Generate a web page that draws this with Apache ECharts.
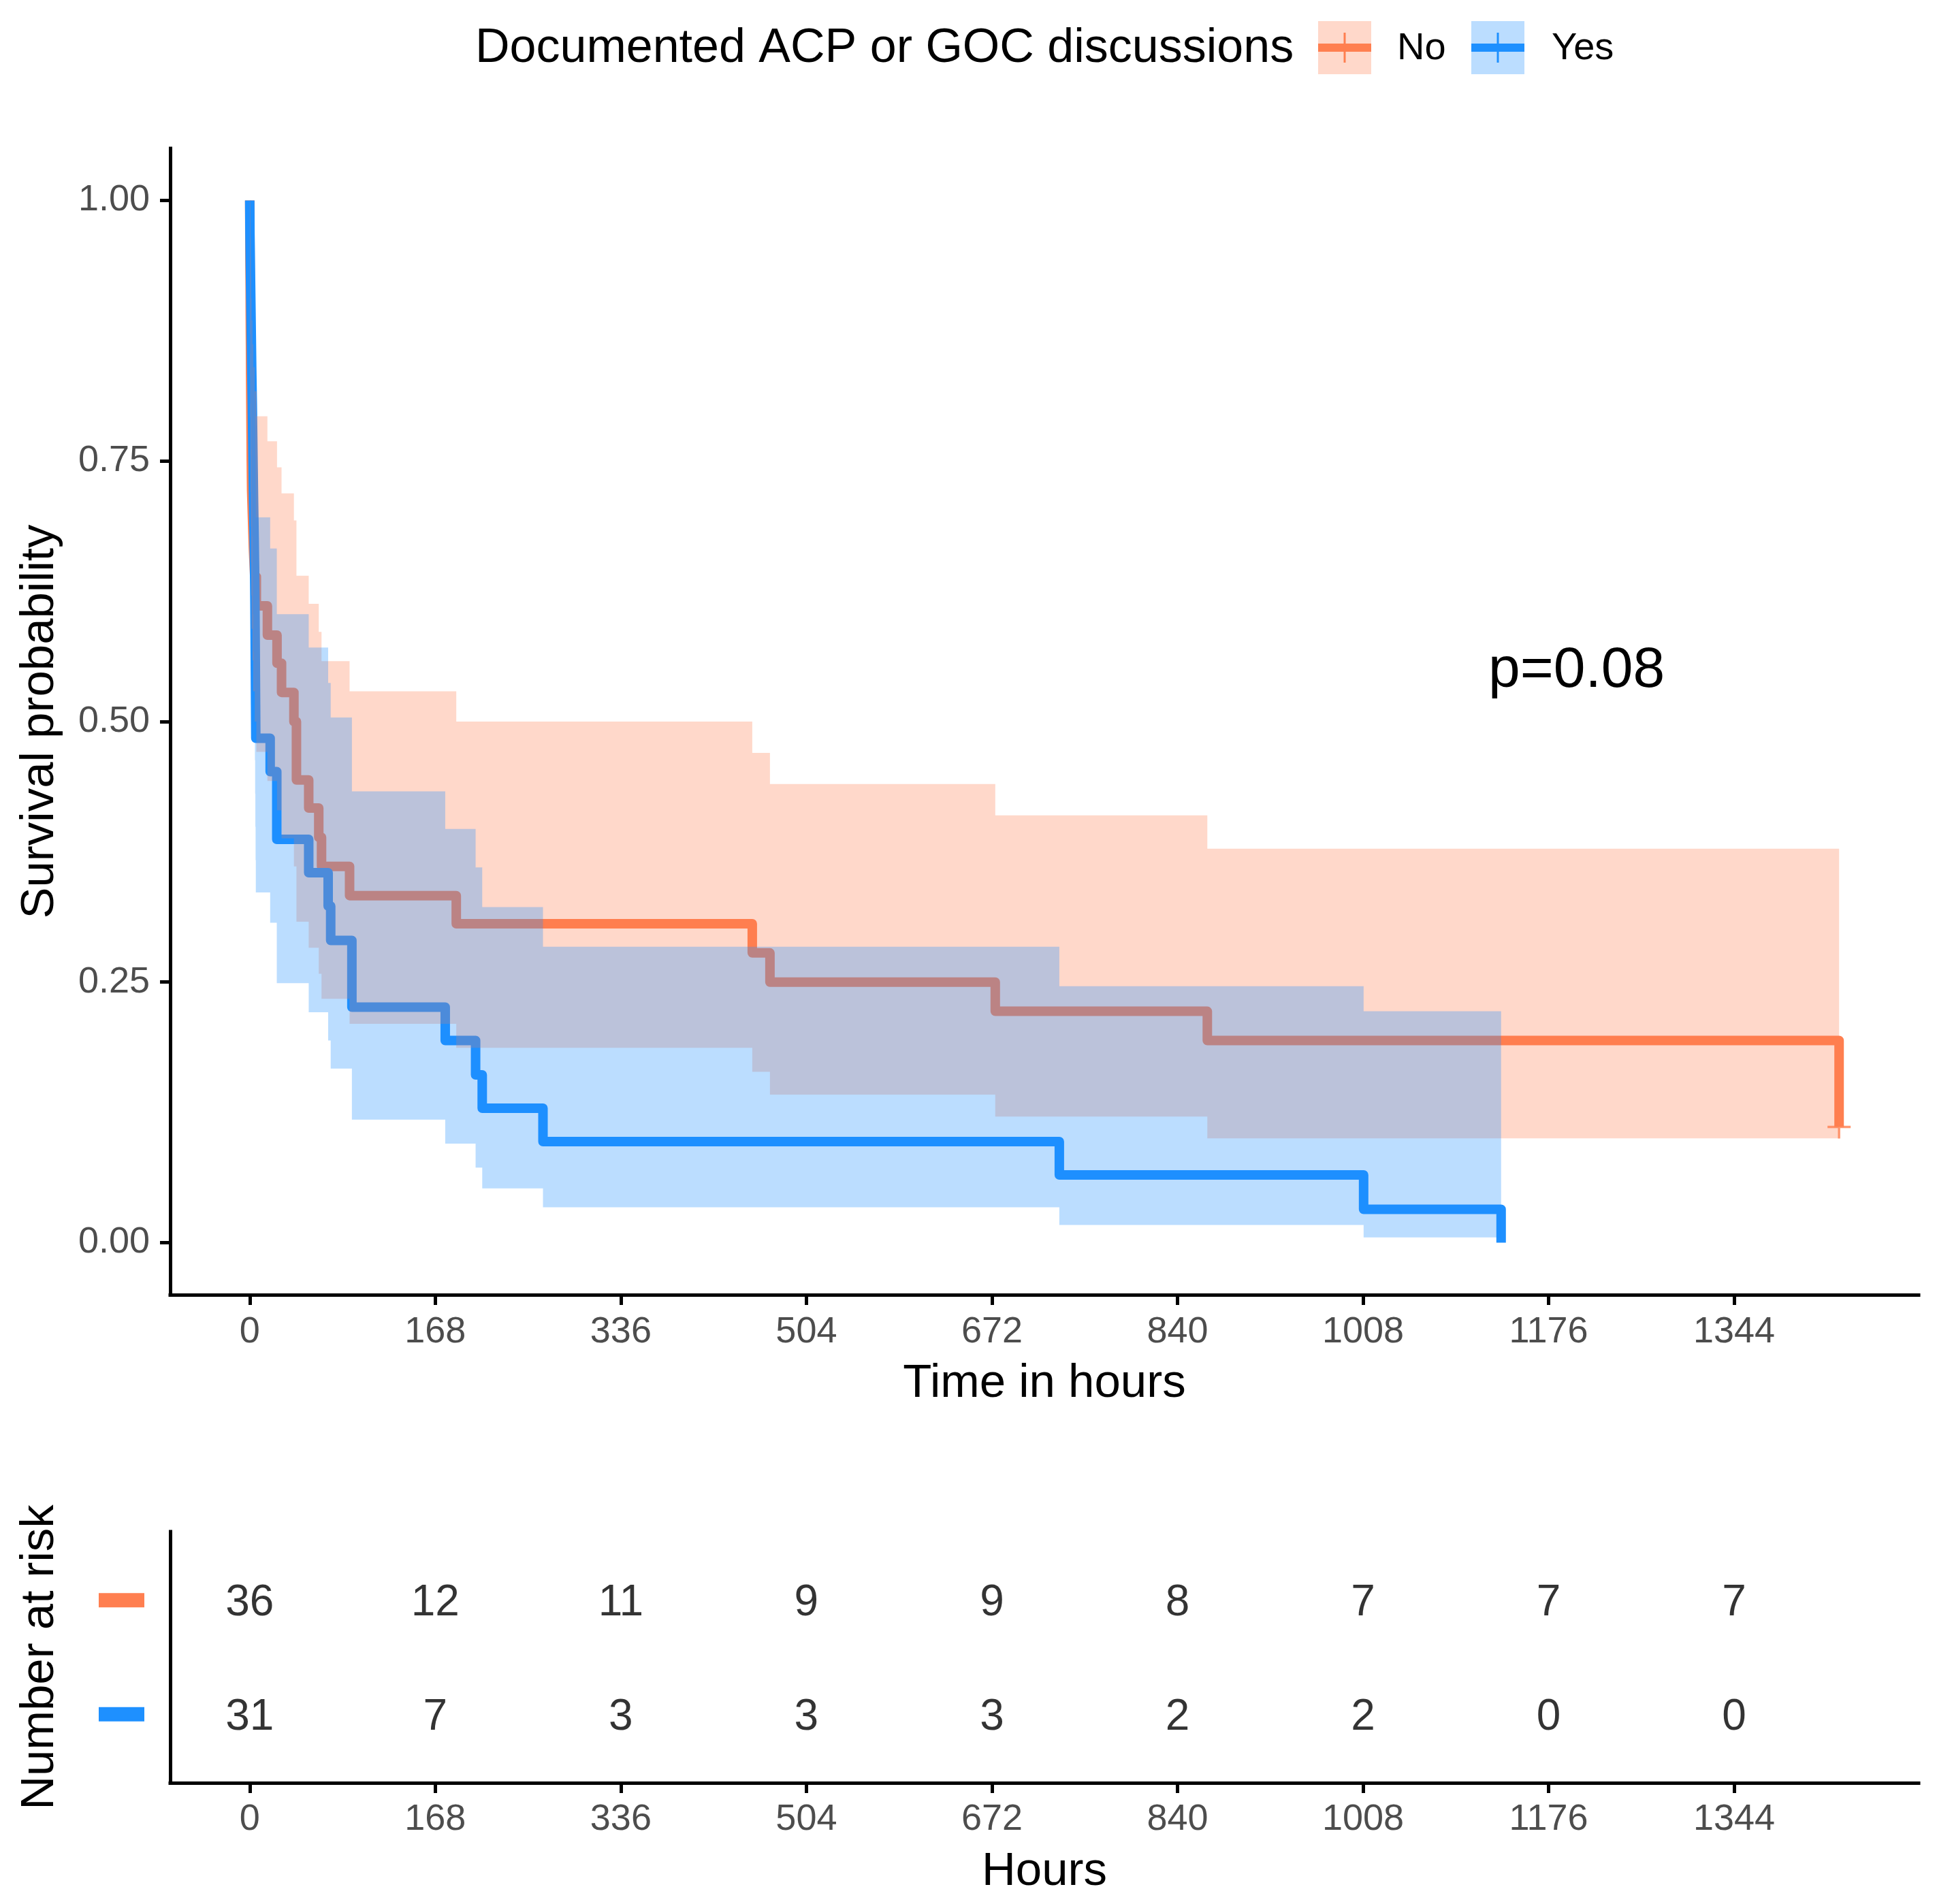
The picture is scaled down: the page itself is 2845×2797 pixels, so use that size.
<!DOCTYPE html>
<html>
<head>
<meta charset="utf-8">
<title>Survival by documented ACP or GOC discussions</title>
<script src="https://cdn.jsdelivr.net/npm/echarts@6/dist/echarts.min.js"></script>
<style>
html,body{margin:0;padding:0;background:#fff;}
#main{width:2845px;height:2797px;}
</style>
</head>
<body>
<div id="main"></div>
<script>
var FONT = '"Liberation Sans", Arial, sans-serif';
var COL_NO = '#FF7F50', COL_YES = '#1E90FF';

// Kaplan-Meier steps (hours, survival, CI upper, CI lower)
// group "No"
var noTime  = [0, 0.1, 0.2, 0.4, 0.5, 0.7, 0.8, 1.0, 1.2, 1.4, 1.7, 2.5, 3.3, 4.5, 6.0,
               16, 24.7, 28.8, 40, 42.3, 53.4, 62.5, 65, 90.4, 187, 455, 471, 675, 867, 1439];
var noSurv  = [1, .972, .944, .917, .889, .861, .833, .806, .778, .75, .722, .694, .667, .639, .611,
               .583, .556, .528, .5, .444, .417, .389, .361, .333, .306, .278, .25, .222, .194, .111];
var noUpper = [1, 1, 1, 1, .997, .982, .964, .946, .927, .906, .885, .862, .840, .817, .793,
               .769, .744, .719, .693, .640, .613, .586, .558, .529, .500, .470, .440, .410, .378, .378];
var noLower = [1, .920, .872, .831, .792, .755, .720, .687, .653, .621, .589, .559, .529, .500, .471,
               .443, .415, .388, .361, .308, .283, .258, .234, .210, .187, .164, .142, .121, .100, .100];

// group "Yes"
var yesTime  = [0, 0.2, 0.6, 1.0, 1.4, 1.8, 2.3, 2.7, 3.1, 3.5, 4.0, 4.4, 4.7, 4.9, 5.1, 5.3, 5.5,
                18.5, 24.5, 53.4, 71, 73.3, 92.5, 177, 204.5, 210.5, 265.5, 733, 1008.5, 1133];
var yesSurv  = [1, .968, .935, .903, .871, .839, .806, .774, .742, .710, .677, .645, .613, .581, .548, .516, .484,
                .452, .387, .355, .323, .290, .226, .194, .161, .129, .097, .065, .032, 0];
var yesUpper = [1, 1, 1, 1, .997, .979, .958, .937, .913, .889, .864, .838, .811, .783, .755, .726, .696,
                .666, .603, .571, .537, .504, .433, .397, .360, .322, .284, .246, .222, .222];
var yesLower = [1, .907, .853, .805, .761, .719, .678, .640, .603, .567, .531, .497, .463, .431, .399, .367, .336,
                .307, .249, .221, .194, .167, .118, .095, .072, .052, .034, .017, .005, .005];

// censoring mark, risk table, ticks
var censorNo  = [[1439, 0.111]];
var tickHours = [0, 168, 336, 504, 672, 840, 1008, 1176, 1344];
var survTicks = [0, 0.25, 0.5, 0.75, 1];
var riskNo    = [36, 12, 11, 9, 9, 8, 7, 7, 7];
var riskYes   = [31, 7, 3, 3, 3, 2, 2, 0, 0];
var pText     = 'p=0.08';

function pairs(xs, ys) {
	return xs.map(function(x, i) { return [x, ys[i]]; });
}

function xAx(grid, name, labMargin, nameGap) {
	return {
		type: 'value', gridIndex: grid, min: -72, max: 1511,
		axisLine: {show: true, onZero: false, lineStyle: {color: '#000', width: 5, cap: 'square'}},
		axisTick: {show: true, customValues: tickHours, length: 15, lineStyle: {color: '#000', width: 5}},
		axisLabel: {customValues: tickHours, fontSize: 54, color: '#4D4D4D', fontFamily: FONT, margin: labMargin,
			formatter: function(v) { return String(v); }},
		splitLine: {show: false},
		name: name, nameLocation: 'middle', nameGap: nameGap,
		nameTextStyle: {fontSize: 69, color: '#000', fontFamily: FONT}
	};
}

// confidence band as one step polygon, placed through the axes
function band(xs, lo, up, color, z) {
	return {
		type: 'custom', data: pairs(xs, lo), z: z, silent: true, clip: true,
		renderItem: function(params, api) {
			if (params.dataIndex !== 0) return null;
			var top = [], bot = [];
			for (var i = 0; i < xs.length; i++) {
				var x1 = i + 1 < xs.length ? xs[i + 1] : xs[i];
				top.push(api.coord([xs[i], up[i]]), api.coord([x1, up[i]]));
				bot.push(api.coord([xs[i], lo[i]]), api.coord([x1, lo[i]]));
			}
			return {
				type: 'polygon',
				shape: {points: top.concat(bot.reverse())},
				style: {fill: color, opacity: 0.3}
			};
		}
	};
}

function riskRow(row, counts) {
	return tickHours.map(function(t, i) { return [t, row, counts[i]]; });
}

var series = [
	{name: 'No', type: 'line', step: 'end', data: pairs(noTime, noSurv), symbol: 'none', z: 2,
	 lineStyle: {color: COL_NO, width: 14, join: 'round'}},
	{name: 'Yes', type: 'line', step: 'end', data: pairs(yesTime, yesSurv), symbol: 'none', z: 2,
	 lineStyle: {color: COL_YES, width: 14, join: 'round'}},
	band(noTime, noLower, noUpper, COL_NO, 3),
	band(yesTime, yesLower, yesUpper, COL_YES, 4),
	{name: 'censor', type: 'scatter', data: censorNo, z: 5,
	 symbol: 'path://M9,0h2v9h9v2h-9v9h-2v-9h-9v-2h9z', symbolSize: 34,
	 itemStyle: {color: COL_NO}}
];
[[2, riskNo], [1, riskYes]].forEach(function(r) {
	series.push({
		type: 'scatter', xAxisIndex: 1, yAxisIndex: 1, data: riskRow(r[0], r[1]),
		symbolSize: 1, itemStyle: {color: 'rgba(0,0,0,0)'}, silent: true,
		label: {show: true, position: 'inside', offset: [0, 5], fontSize: 64, color: '#000', fontFamily: FONT,
			formatter: function(p) { return String(p.value[2]); }}
	});
});

// legend drawn by hand: title, shaded key with line and cross, label
var graphic = [
	{type: 'text', x: 698, y: 72, z: 10, style: {text: 'Documented ACP or GOC discussions', fontSize: 70,
		fontFamily: FONT, fill: '#000', textVerticalAlign: 'middle', verticalAlign: 'middle'}},
	{type: 'text', x: 2186, y: 986, z: 10, style: {text: pText, fontSize: 84,
		fontFamily: FONT, fill: '#000', textVerticalAlign: 'middle', verticalAlign: 'middle'}}
];
[['No', COL_NO, 1936, 2052], ['Yes', COL_YES, 2161, 2279]].forEach(function(k) {
	graphic.push({type: 'rect', shape: {x: k[2], y: 31, width: 78, height: 78}, style: {fill: k[1], opacity: 0.3}});
	graphic.push({type: 'line', shape: {x1: k[2], y1: 70, x2: k[2] + 78, y2: 70}, style: {stroke: k[1], lineWidth: 12}});
	graphic.push({type: 'line', shape: {x1: k[2] + 39, y1: 48, x2: k[2] + 39, y2: 92}, style: {stroke: k[1], lineWidth: 3}});
	graphic.push({type: 'text', x: k[3], y: 72, style: {text: k[0], fontSize: 56, fontFamily: FONT,
		fill: '#000', textVerticalAlign: 'middle', verticalAlign: 'middle'}});
});

var myChart = echarts.init(document.getElementById('main'));
var option = {
	animation: false,
	backgroundColor: '#fff',
	textStyle: {fontFamily: FONT},
	grid: [
		{left: 250, top: 218, width: 2568, height: 1684},
		{left: 250, top: 2250, width: 2568, height: 369}
	],
	xAxis: [
		xAx(0, 'Time in hours', 28, 96),
		xAx(1, 'Hours', 27, 96)
	],
	yAxis: [
		{
			type: 'value', gridIndex: 0, min: -0.05, max: 1.05,
			axisLine: {show: true, onZero: false, lineStyle: {color: '#000', width: 5, cap: 'square'}},
			axisTick: {show: true, customValues: survTicks, length: 15, lineStyle: {color: '#000', width: 5}},
			axisLabel: {customValues: survTicks, fontSize: 54, color: '#4D4D4D', fontFamily: FONT, margin: 30,
				formatter: function(v) { return v.toFixed(2); }},
			splitLine: {show: false},
			name: 'Survival probability', nameLocation: 'middle', nameGap: 157, nameRotate: 90,
			nameTextStyle: {fontSize: 69, color: '#000', fontFamily: FONT}
		},
		{
			type: 'value', gridIndex: 1, min: 0.4, max: 2.6,
			axisLine: {show: true, onZero: false, lineStyle: {color: '#000', width: 5, cap: 'square'}},
			axisTick: {show: false},
			axisLabel: {customValues: [1, 2], margin: 38,
				formatter: function(v) { return v === 2 ? '{o| }' : '{b| }'; },
				rich: {o: {width: 67, height: 21, backgroundColor: COL_NO},
				       b: {width: 67, height: 21, backgroundColor: COL_YES}}},
			splitLine: {show: false},
			name: 'Number at risk', nameLocation: 'middle', nameGap: 157, nameRotate: 90,
			nameTextStyle: {fontSize: 69, color: '#000', fontFamily: FONT}
		}
	],
	graphic: graphic,
	series: series
};
myChart.setOption(option);
</script>
</body>
</html>
